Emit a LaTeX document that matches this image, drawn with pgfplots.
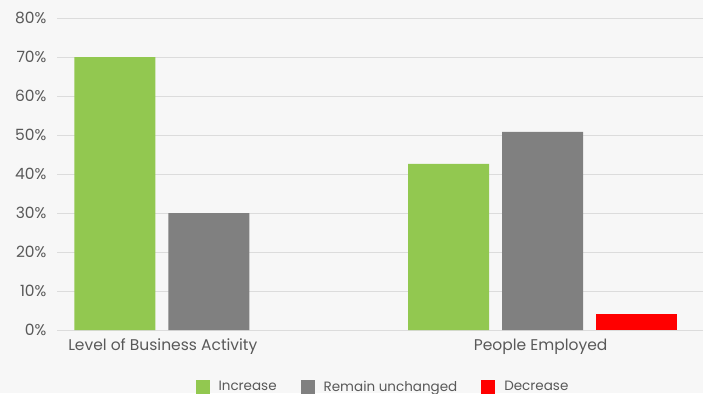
\documentclass[border=0pt]{standalone}
\usepackage{pgfplots}
\pgfplotsset{compat=1.18}
\usepackage{fontspec}
\setmainfont{Poppins}
\definecolor{bg}{HTML}{F7F7F7}
\definecolor{gridc}{HTML}{DCDCDC}
\definecolor{txt}{HTML}{595959}
\definecolor{cinc}{HTML}{92C850}
\definecolor{crem}{HTML}{808080}
\definecolor{cdec}{HTML}{FF0000}
\begin{document}
\begin{tikzpicture}
\fill[bg] (0pt,0pt) rectangle (703pt,-393pt);
\useasboundingbox (0pt,0pt) rectangle (703pt,-393pt);
\begin{axis}[
  at={(57pt,-330pt)}, anchor=south west,
  scale only axis, width=646pt, height=312pt,
  ymin=0, ymax=80, xmin=-0.455, xmax=1.4805,
  ytick={0,10,...,80},
  yticklabel={\pgfmathprintnumber{\tick}\%},
  /pgf/number format/assume math mode=true,
  ymajorgrids, grid style={draw=gridc, line width=0.9pt},
  axis line style={draw=none},
  major tick length=0pt, tick style={draw=none},
  xtick={-0.138,0.994},
  xticklabels={Level of Business Activity, People Employed},
  ticklabel style={font=\fontsize{15.5}{18}\selectfont, text=txt},
  yticklabel style={xshift=-7pt},
  xticklabel style={yshift=-5pt},
  ybar, bar width=0.2425,
  legend style={at={(0.5046,-0.182)}, anchor=center, legend columns=3, draw=none, fill=none,
    font=\fontsize{13.5}{16}\selectfont, text=txt,
    /tikz/every odd column/.append style={column sep=7pt},
    /tikz/every even column/.append style={column sep=22pt}},
  legend image code/.code={\fill[#1] (0pt,-7pt) rectangle (14pt,7pt);},
  clip=false,
]
\addplot[fill=cinc, draw=none, bar shift=-0.2814] coordinates {(0,70) (1,42.6)};
\addlegendentry{Increase}
\addplot[fill=crem, draw=none, bar shift=0] coordinates {(0,30) (1,50.8)};
\addlegendentry{Remain unchanged}
\addplot[fill=cdec, draw=none, bar shift=0.2814] coordinates {(1,4.1)};
\addlegendentry{Decrease}
\end{axis}
\end{tikzpicture}
\end{document}
